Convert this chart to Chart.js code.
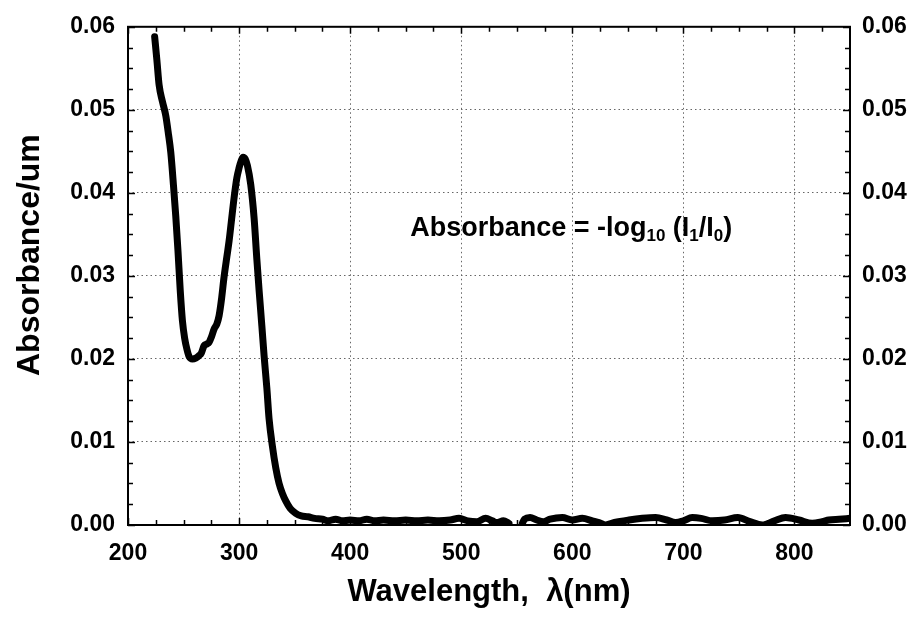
<!DOCTYPE html>
<html><head><meta charset="utf-8">
<script src="https://cdn.jsdelivr.net/npm/chart.js@4.4.1/dist/chart.umd.min.js"></script>
<style>html,body{margin:0;padding:0;background:#fff}</style>
</head><body>
<canvas id="c" width="911" height="622"></canvas>
<script>
// ---- data ----
const wavelengths = [224,226,228,231,234,236.5,238.5,241,243,245,247,249,251,253,255,258,261,264,266,268.5,271,273,275,277.5,280,282,284,286.5,289,291,293,295.5,298,300,302,303.6,305.5,307.5,310.5,313.5,316,318,320.5,322.5,325,327,330,333,336,339,342,346,351,356,362,368,375,380,387,393,400,408,415,422,430,440,450,460,470,480,490,498,506,514,522,528,532,538,543,545,555,557,562,568,574,580,591,600,609,618,624,630,638,651,663,675,685,693,700,708,716,726,737,749,760,771,782,792,804,816,825,831,840,850];
const absorbance = [0.0588,0.0560,0.0530,0.0510,0.0493,0.0470,0.0449,0.0408,0.0372,0.0330,0.0283,0.0246,0.0225,0.0212,0.0203,0.0200,0.0201,0.0204,0.0207,0.0216,0.0218,0.0220,0.0226,0.0236,0.0242,0.0252,0.0270,0.0299,0.0323,0.0342,0.0365,0.0394,0.0418,0.0430,0.0439,0.0443,0.0441,0.0433,0.0410,0.0370,0.0320,0.0283,0.0240,0.0204,0.0165,0.0128,0.0095,0.0069,0.0050,0.0038,0.0029,0.0020,0.0014,0.0011,0.0010,0.0008,0.0007,0.0005,0.0007,0.0005,0.0006,0.0005,0.0007,0.0005,0.0006,0.0005,0.0006,0.0005,0.0006,0.0005,0.0006,0.0008,0.0005,0.0004,0.0008,0.0005,0.0003,0.0005,0.0002,null,0.0002,0.0007,0.0009,0.0006,0.0004,0.0007,0.0009,0.0006,0.0008,0.0005,0.0003,0.0000,0.0003,0.0006,0.0008,0.0009,0.0006,0.0003,0.0005,0.0009,0.0008,0.0005,0.0006,0.0009,0.0004,0.0000,0.0005,0.0009,0.0006,0.0002,0.0004,0.0006,0.0007,0.0008];
const xTicks = [200,300,400,500,600,700,800];
const yTicks = [0,0.01,0.02,0.03,0.04,0.05,0.06];
const xMinorTicks = [225,250,275,325,350,375,425,450,475,525,550,575,625,650,675,725,750,775,825];
const yMinorTicks = [0.0025,0.005,0.0075,0.0125,0.015,0.0175,0.0225,0.025,0.0275,0.0325,0.035,0.0375,0.0425,0.045,0.0475,0.0525,0.055,0.0575];
const xTitle = 'Wavelength,  \u03bb(nm)';
const yTitle = 'Absorbance/um';
const annotationParts = [['Absorbance = -log',false],['10',true],[' (I',false],['1',true],['/I',false],['0',true],[')',false]];
const annotationAt = {x: 454, y: 0.0348};

const FONT = '"Liberation Sans", Arial, sans-serif';
const points = wavelengths.map((w,i)=>({x:w, y:absorbance[i]}));

const framePlugin = {
  id:'frame',
  afterDraw(chart){
    const {ctx, chartArea:a, scales:{x,y}} = chart;
    ctx.save();
    ctx.strokeStyle='#000'; ctx.lineWidth=2;
    ctx.strokeRect(a.left, a.top, a.right-a.left, a.bottom-a.top);
    ctx.lineWidth=1.5;
    ctx.beginPath();
    const tick=(vals,len)=>{
      vals.forEach(v=>{const px=Math.round(x.getPixelForValue(v))+0.5;
        ctx.moveTo(px,a.bottom); ctx.lineTo(px,a.bottom-len);
        ctx.moveTo(px,a.top); ctx.lineTo(px,a.top+len);});
    };
    const tickY=(vals,len)=>{
      vals.forEach(v=>{const py=Math.round(y.getPixelForValue(v))+0.5;
        ctx.moveTo(a.left,py); ctx.lineTo(a.left+len,py);
        ctx.moveTo(a.right,py); ctx.lineTo(a.right-len,py);});
    };
    tick(xTicks,7); tick(xMinorTicks,5);
    tickY(yTicks,7); tickY(yMinorTicks,5);
    ctx.stroke();
    // annotation
    let px = x.getPixelForValue(annotationAt.x);
    const py = y.getPixelForValue(annotationAt.y);
    ctx.fillStyle='#000'; ctx.textBaseline='alphabetic'; ctx.textAlign='left';
    annotationParts.forEach(([t,sub])=>{
      ctx.font = 'bold '+(sub?17:27)+'px '+FONT;
      ctx.fillText(t, px, py + (sub?5:0));
      px += ctx.measureText(t).width;
    });
    // y axis title (rotated)
    ctx.save();
    ctx.translate(39, 376);
    ctx.rotate(-Math.PI/2);
    ctx.font = 'bold 32px '+FONT;
    ctx.textAlign='left'; ctx.textBaseline='alphabetic';
    ctx.fillText(yTitle, 0, 0);
    ctx.restore();
    ctx.restore();
  }
};

new Chart(document.getElementById('c'), {
  type:'line',
  data:{datasets:[{data:points, borderColor:'#000', borderWidth:7, pointRadius:0,
    borderCapStyle:'round', borderJoinStyle:'round', cubicInterpolationMode:'monotone',
    spanGaps:false, fill:false}]},
  options:{
    responsive:false, animation:false, devicePixelRatio:1,
    layout:{padding:{top:20,right:0,left:0,bottom:0}},
    plugins:{legend:{display:false}, tooltip:{enabled:false}},
    scales:{
      x:{type:'linear', position:'bottom', min:200, max:850,
        afterBuildTicks:s=>{s.ticks = xTicks.map(v=>({value:v}));},
        afterFit:s=>{s.height=97;},
        ticks:{color:'#000', font:{family:FONT, size:23, weight:'bold'}, padding:15, maxRotation:0, callback:v=>String(v)},
        grid:{color:'#666', lineWidth:1, drawTicks:false},
        border:{display:false, dash:[1.5,3]},
        title:{display:true, text:xTitle, color:'#000', font:{family:FONT, size:31, weight:'bold'}, padding:{top:0,bottom:11}}
      },
      y:{type:'linear', position:'left', min:0, max:0.06,
        afterBuildTicks:s=>{s.ticks = yTicks.map(v=>({value:v}));},
        afterFit:s=>{s.width=128;},
        ticks:{color:'#000', font:{family:FONT, size:23, weight:'bold'}, padding:13, callback:v=>v.toFixed(2)},
        grid:{color:'#666', lineWidth:1, drawTicks:false},
        border:{display:false, dash:[1.5,3]}
      },
      y2:{type:'linear', position:'right', min:0, max:0.06,
        afterBuildTicks:s=>{s.ticks = yTicks.map(v=>({value:v}));},
        afterFit:s=>{s.width=61;},
        ticks:{color:'#000', font:{family:FONT, size:23, weight:'bold'}, padding:12, callback:v=>v.toFixed(2)},
        grid:{display:false, drawTicks:false},
        border:{display:false}
      }
    }
  },
  plugins:[framePlugin]
});
</script>
</body></html>
